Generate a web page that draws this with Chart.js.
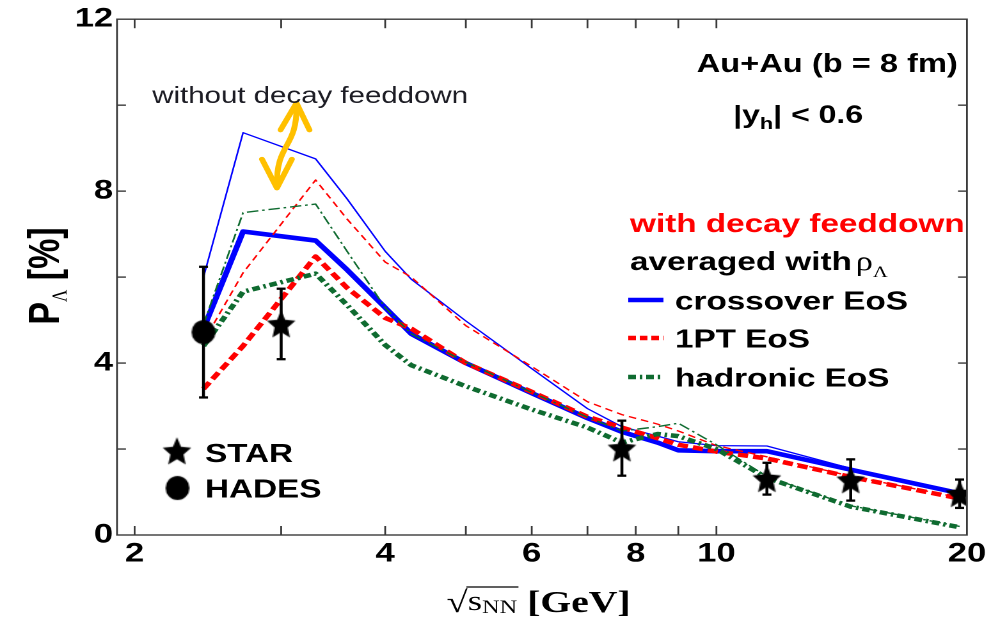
<!DOCTYPE html>
<html>
<head>
<meta charset="utf-8">
<script src="https://cdn.jsdelivr.net/npm/chart.js@4.4.0/dist/chart.umd.min.js"></script>
<style>
  html, body { margin: 0; padding: 0; background: #fff; overflow: hidden; }
  /* the figure is laid out on a 787px-wide canvas and widened to 1007px */
  #wrap { width: 787px; height: 623px; transform: scaleX(1.27954); transform-origin: 0 0; }
  canvas { display: block; }
</style>
</head>
<body>
<div id="wrap"><canvas id="c" width="787" height="623"></canvas></div>
<script>
// ---- data -------------------------------------------------------------
// collision energies (GeV) of the hydro + transport calculations
const energies = [2.42, 2.7, 3.3, 3.6, 4.0, 4.3, 5.0, 6.0, 7.0, 7.7, 8.5, 9.0, 10, 11.5, 14.5, 19.6];

// P_Lambda [%] with decay feeddown (thick curves)
const crossoverFd = [4.8, 7.06, 6.85, 6.17, 5.29, 4.68, 4.0, 3.3, 2.72, 2.4, 2.15, 1.97, 1.95, 1.95, 1.52, 0.97];
const onePTFd     = [3.4, 4.4, 6.48, 5.75, 5.05, 4.8, 4.0, 3.33, 2.75, 2.5, 2.25, 2.1, 1.94, 1.78, 1.35, 0.85];
const hadronicFd  = [4.4, 5.66, 6.08, 5.35, 4.42, 3.95, 3.46, 2.92, 2.5, 2.15, 2.35, 2.3, 2.0, 1.33, 0.66, 0.18];

// P_Lambda [%] without decay feeddown (thin curves)
const crossoverNoFd = [6.0, 9.36, 8.75, 7.82, 6.6, 5.95, 4.98, 3.87, 2.94, 2.52, 2.3, 2.17, 2.08, 2.07, 1.55, 1.0];
const onePTNoFd     = [4.5, 6.1, 8.26, 7.35, 6.35, 6.0, 4.87, 3.92, 3.1, 2.8, 2.58, 2.42, 2.08, 1.82, 1.37, 0.87];
const hadronicNoFd  = [4.9, 7.5, 7.7, 6.6, 5.29, 4.68, 4.02, 3.32, 2.74, 2.42, 2.52, 2.6, 2.1, 1.36, 0.68, 0.2];

// measurements
const starEnergy = [3.0, 7.7, 11.5, 14.5, 19.6];
const starP      = [4.91, 2.02, 1.31, 1.28, 0.96];
const starErr    = [0.82, 0.64, 0.37, 0.48, 0.33];
const hadesEnergy = [2.42];
const hadesP      = [4.72];
const hadesErr    = [1.52];

// axis ticks
const xTickLabels = [2, 4, 6, 8, 10, 20];
const xTickMarks  = [2, 3, 4, 5, 6, 7, 8, 9, 10];
const yTickLabels = [0, 4, 8, 12];
const yTickMarks  = [2, 4, 6, 8, 10];

// ---- styling ----------------------------------------------------------
const K = 1007 / 787;                 // horizontal widening of the figure
const BLUE = '#0000ff', RED = '#ff0000', GREEN = '#0f6b30', ORANGE = '#ffc000';
const SANS = "'Liberation Sans', Arial, Helvetica, sans-serif";
const SERIF = "'Liberation Serif', 'Times New Roman', serif";

// markers are pre-squeezed so they come out round after widening
function makeStar(R) {
  const w = Math.ceil(2 * R / K) + 4, h = Math.ceil(2 * R) + 4;
  const c = document.createElement('canvas');
  c.width = w; c.height = h;
  const g = c.getContext('2d');
  g.translate(w / 2, h / 2 + R * 0.09);
  g.scale(1 / K, 1);
  g.beginPath();
  for (let i = 0; i < 10; i++) {
    const r = i % 2 ? R * 0.46 : R;
    const a = -Math.PI / 2 + i * Math.PI / 5;
    g.lineTo(r * Math.cos(a), r * Math.sin(a));
  }
  g.closePath();
  g.fillStyle = '#000';
  g.fill();
  return c;
}
function makeDisc(R) {
  const w = Math.ceil(2 * R / K) + 4, h = Math.ceil(2 * R) + 4;
  const c = document.createElement('canvas');
  c.width = w; c.height = h;
  const g = c.getContext('2d');
  g.beginPath();
  g.ellipse(w / 2, h / 2, R / K, R, 0, 0, Math.PI * 2);
  g.fillStyle = '#000';
  g.fill();
  return c;
}
const starImg = makeStar(15);
const discImg = makeDisc(12);

const pts = (xs, ys) => xs.map((x, i) => ({ x: x, y: ys[i] }));
const curve = (label, ys, color, width, dash, order) => ({
  label: label, data: pts(energies, ys), showLine: true,
  borderColor: color, backgroundColor: color, borderWidth: width,
  borderDash: dash, pointRadius: 0, tension: 0, order: order,
  borderCapStyle: 'butt', borderJoinStyle: 'round'
});

// ---- decorations: frame, inward ticks, error bars, texts ------------
function line(ctx, x1, y1, x2, y2) {
  ctx.beginPath(); ctx.moveTo(x1, y1); ctx.lineTo(x2, y2); ctx.stroke();
}

const errorBars = {
  id: 'errorBars',
  afterDatasetsDraw(chart) {
    const { ctx, scales: { x, y } } = chart;
    ctx.save();
    ctx.strokeStyle = '#000';
    ctx.lineWidth = 2.3;
    const draw = (es, ps, errs) => es.forEach((e, i) => {
      const px = x.getPixelForValue(e);
      const top = y.getPixelForValue(ps[i] + errs[i]);
      const bot = y.getPixelForValue(ps[i] - errs[i]);
      line(ctx, px, top, px, bot);
      line(ctx, px - 3.5, top, px + 3.5, top);
      line(ctx, px - 3.5, bot, px + 3.5, bot);
    });
    draw(starEnergy, starP, starErr);
    draw(hadesEnergy, hadesP, hadesErr);
    ctx.restore();
  }
};

// double arrow between the two sets of curves
const arrowTop = { x: 3.13, y: 10.05 };
const arrowBottom = { x: 2.965, y: 8.07 };
const feeddownArrow = {
  id: 'feeddownArrow',
  afterDatasetsDraw(chart) {
    const { ctx, scales: { x, y } } = chart;
    const tx = x.getPixelForValue(arrowTop.x), ty = y.getPixelForValue(arrowTop.y);
    const bx = x.getPixelForValue(arrowBottom.x), by = y.getPixelForValue(arrowBottom.y);
    ctx.save();
    ctx.strokeStyle = ORANGE;
    ctx.lineWidth = 4.6;
    ctx.lineCap = 'round';
    ctx.lineJoin = 'round';
    ctx.beginPath();
    ctx.moveTo(tx, ty + 2);
    ctx.bezierCurveTo(tx + 1 / K, ty + 46, bx - 1 / K, by - 46, bx, by - 2);
    ctx.stroke();
    ctx.beginPath();
    ctx.moveTo(tx - 16 / K, ty + 27); ctx.lineTo(tx, ty); ctx.lineTo(tx + 13 / K, ty + 27);
    ctx.stroke();
    ctx.beginPath();
    ctx.moveTo(bx - 15 / K, by - 29); ctx.lineTo(bx, by); ctx.lineTo(bx + 15 / K, by - 29);
    ctx.stroke();
    ctx.restore();
  }
};

const frameAndText = {
  id: 'frameAndText',
  afterDraw(chart) {
    const { ctx, chartArea: a, scales: { x, y } } = chart;
    ctx.save();

    // frame and inward ticks
    ctx.strokeStyle = '#3a3a3a';
    ctx.lineWidth = 1.4;
    ctx.strokeRect(a.left, a.top, a.right - a.left, a.bottom - a.top);
    xTickMarks.forEach(v => {
      const px = x.getPixelForValue(v);
      line(ctx, px, a.bottom, px, a.bottom - 9);
      line(ctx, px, a.top, px, a.top + 9);
    });
    yTickMarks.forEach(v => {
      const py = y.getPixelForValue(v);
      line(ctx, a.left, py, a.left + 7, py);
      line(ctx, a.right, py, a.right - 7, py);
    });

    ctx.textBaseline = 'alphabetic';

    // label of the thin curves
    ctx.fillStyle = '#1c1c24';
    ctx.font = `23px ${SANS}`;
    ctx.textAlign = 'left';
    ctx.fillText('without decay feeddown', 119, 103);

    // system
    ctx.fillStyle = '#000';
    ctx.font = `bold 25.5px ${SANS}`;
    ctx.textAlign = 'right';
    ctx.fillText('Au+Au (b = 8 fm)', 748.5, 72);

    // rapidity window |y_h| < 0.6
    ctx.textAlign = 'left';
    let cx = 573;
    ctx.font = `bold 25px ${SANS}`;
    ctx.fillText('|y', cx, 123); cx += ctx.measureText('|y').width;
    ctx.font = `bold 17px ${SANS}`;
    ctx.fillText('h', cx, 129); cx += ctx.measureText('h').width;
    ctx.font = `bold 25px ${SANS}`;
    ctx.fillText('| < 0.6', cx, 123);

    // legend of the curves
    ctx.fillStyle = RED;
    ctx.font = `bold 26px ${SANS}`;
    ctx.fillText('with decay feeddown', 492.4, 232);
    ctx.fillStyle = '#000';
    ctx.fillText('averaged with', 492.4, 270);
    cx = 492.4 + ctx.measureText('averaged with').width + 3;
    ctx.font = `27px ${SERIF}`;
    ctx.fillText('\u03c1', cx, 270); cx += ctx.measureText('\u03c1').width;
    ctx.font = `16px ${SERIF}`;
    ctx.fillText('\u039b', cx, 277);

    const entries = [
      ['crossover EoS', BLUE, [], 300],
      ['1PT EoS', RED, [6, 3], 338],
      ['hadronic EoS', GREEN, [6, 3, 2, 3], 377]
    ];
    entries.forEach(([txt, col, dash, yy]) => {
      ctx.strokeStyle = col;
      ctx.lineWidth = 4.5;
      ctx.setLineDash(dash);
      line(ctx, 491, yy, 518.5, yy);
      ctx.setLineDash([]);
      ctx.fillStyle = '#000';
      ctx.font = `bold 26px ${SANS}`;
      ctx.fillText(txt, 527.5, yy + 9.5);
    });

    // legend of the measurements
    ctx.drawImage(starImg, 138.3 - starImg.width / 2, 451 - starImg.height / 2);
    ctx.drawImage(discImg, 138.7 - discImg.width / 2, 488 - discImg.height / 2);
    ctx.font = `bold 26px ${SANS}`;
    ctx.fillText('STAR', 160.2, 462);
    ctx.fillText('HADES', 160.2, 497.5);

    // y-axis title: P_Lambda [%]
    ctx.save();
    ctx.translate(46, 276);
    ctx.rotate(-Math.PI / 2);
    ctx.font = `bold 34px ${SANS}`;
    const wP = ctx.measureText('P').width;
    const wB = ctx.measureText(' [%]').width;
    ctx.font = `17px ${SERIF}`;
    const wL = ctx.measureText('\u039b').width;
    let tx = -(wP + wL + wB) / 2;
    ctx.font = `bold 34px ${SANS}`;
    ctx.fillText('P', tx, 0); tx += wP;
    ctx.font = `17px ${SERIF}`;
    ctx.fillText('\u039b', tx, 6); tx += wL;
    ctx.font = `bold 34px ${SANS}`;
    ctx.fillText(' [%]', tx, 0);
    ctx.restore();

    // x-axis title: sqrt(s_NN) [GeV]
    let sx = 349;
    const base = 612;
    ctx.font = `30px ${SERIF}`;
    ctx.fillText('\u221a', sx, base); sx += ctx.measureText('\u221a').width;
    const barStart = sx - 1;
    ctx.font = `29px ${SERIF}`;
    ctx.fillText('s', sx, base - 2); sx += ctx.measureText('s').width;
    ctx.font = `19px ${SERIF}`;
    ctx.fillText('NN', sx, base + 1); sx += ctx.measureText('NN').width;
    ctx.strokeStyle = '#000';
    ctx.lineWidth = 1.3;
    line(ctx, barStart, base - 25, sx + 1, base - 25);
    ctx.font = `bold 31px ${SERIF}`;
    ctx.fillText(' [GeV]', sx, base);

    ctx.restore();
  }
};

const tickFont = { family: SANS, size: 27, weight: 'bold' };

new Chart(document.getElementById('c'), {
  type: 'scatter',
  data: {
    datasets: [
      { label: 'STAR', data: pts(starEnergy, starP), pointStyle: starImg, pointRadius: 12, order: 0 },
      { label: 'HADES', data: pts(hadesEnergy, hadesP), pointStyle: discImg, pointRadius: 12, order: 0 },
      curve('hadronic EoS, no feeddown', hadronicNoFd, GREEN, 1.4, [9, 3, 2, 3], 1),
      curve('hadronic EoS', hadronicFd, GREEN, 4.5, [6, 3, 2, 3], 2),
      curve('1PT EoS', onePTFd, RED, 4.5, [8, 4], 3),
      curve('1PT EoS, no feeddown', onePTNoFd, RED, 1.4, [6, 4], 4),
      curve('crossover EoS', crossoverFd, BLUE, 4.6, [], 5),
      curve('crossover EoS, no feeddown', crossoverNoFd, BLUE, 1.3, [], 6)
    ]
  },
  options: {
    responsive: false,
    devicePixelRatio: 2,
    animation: false,
    events: [],
    layout: { padding: { left: 0, right: 31.3, top: 18, bottom: 0 } },
    plugins: { legend: { display: false }, tooltip: { enabled: false } },
    scales: {
      x: {
        type: 'logarithmic', min: 1.905, max: 20,
        afterFit(s) { s.height = 88; },
        afterBuildTicks(s) { s.ticks = xTickLabels.map(v => ({ value: v })); },
        ticks: { callback: v => String(v), autoSkip: false, maxRotation: 0, padding: 3, font: tickFont, color: '#000' },
        grid: { display: false, drawTicks: false },
        border: { display: false }
      },
      y: {
        type: 'linear', min: 0, max: 12,
        afterFit(s) { s.width = 91.44; },
        afterBuildTicks(s) { s.ticks = yTickLabels.map(v => ({ value: v })); },
        ticks: { padding: 3, font: tickFont, color: '#000' },
        grid: { display: false, drawTicks: false },
        border: { display: false }
      }
    }
  },
  plugins: [feeddownArrow, errorBars, frameAndText]
});
</script>
</body>
</html>
